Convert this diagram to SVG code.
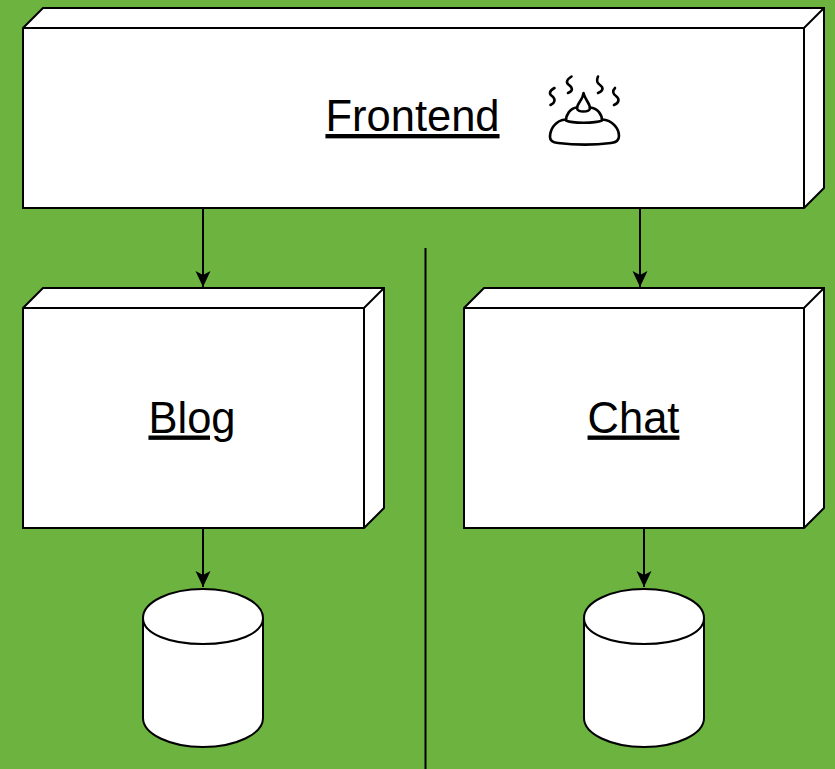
<svg xmlns="http://www.w3.org/2000/svg" width="835" height="769" viewBox="0 0 835 769">
<defs>
<marker id="arrow" markerUnits="userSpaceOnUse" markerWidth="16" markerHeight="16" refX="16" refY="8" orient="auto" viewBox="0 0 16 16">
<path d="M0 0.500L16 8L0 15.500L4 8Z" fill="#000"/>
</marker>
</defs>
<style>
.box{fill:#fff;stroke:#000;stroke-width:2;stroke-linejoin:miter}
.edge{fill:none;stroke:#000;stroke-width:2}
.label{font-family:"Liberation Sans",Arial,sans-serif;font-size:43.5px;fill:#000;text-anchor:middle;text-decoration:underline}
.conn{fill:none;stroke:#000;stroke-width:2}
.ico{fill:none;stroke:#000;stroke-width:2.6;stroke-linecap:round;stroke-linejoin:round}
</style>
<rect width="835" height="769" fill="#6db33f"/>
<g id="connectors">
<path class="conn" d="M203 208V287" marker-end="url(#arrow)"/>
<path class="conn" d="M640 208V287" marker-end="url(#arrow)"/>
<path class="conn" d="M203 528V587" marker-end="url(#arrow)"/>
<path class="conn" d="M644 528V587" marker-end="url(#arrow)"/>
<path class="conn" d="M425.500 248V769"/>
</g>
<g id="frontend">
<path class="box" d="M23 28L43 8H824V188L804 208H23Z"/>
<path class="edge" d="M23 28H804L824 8M804 28V208"/>
<text class="label" x="412.500" y="131">Frontend</text>
<g id="frontend-icon" class="ico">
<path d="M566 119.500C555 120 550 130 550 137C550 141 553 142.500 558 143C575 145 595 145 611 143C616 142.500 619 140 619 136C619 129 613 120 602 119.500"/>
<path d="M577 107.500C570 108 566 115 566 120.500C572 123.500 595 123.500 602 120.500C602 115 598 108 590 107.500"/>
<path d="M583.500 93C583 100 577 103 577 108.500C578 112.500 589 112.500 590 108.500C590 103 585 100 583.500 93Z"/>
<path d="M554.500 88C549 91 549 94 552 96C556 99 555 103 550.500 105"/>
<path d="M571.500 76.500C566 80 566 83 569 85C573 88 573 91 568 93"/>
<path d="M598 76.500C596 81 597 83 600 85C604 88 603 91 598 93"/>
<path d="M615 88C612 91 613 94 616 96C620 99 619 103 614 105"/>
</g>
</g>
<g id="blog">
<path class="box" d="M23 308L43 288H384V508L364 528H23Z"/>
<path class="edge" d="M23 308H364L384 288M364 308V528"/>
<text class="label" x="192" y="432.500">Blog</text>
</g>
<g id="chat">
<path class="box" d="M464 308L484 288H824V508L804 528H464Z"/>
<path class="edge" d="M464 308H804L824 288M804 308V528"/>
<text class="label" x="633.500" y="432.500">Chat</text>
</g>
<g id="blog-db">
<path class="box" d="M143 618C143 602 170 589 203 589C236 589 263 602 263 618V718C263 734 236 747 203 747C170 747 143 734 143 718Z"/>
<path class="edge" d="M143 618C143 634 170 644 203 644C236 644 263 634 263 618"/>
</g>
<g id="chat-db">
<path class="box" d="M584 618C584 602 611 589 644 589C677 589 704 602 704 618V718C704 734 677 747 644 747C611 747 584 734 584 718Z"/>
<path class="edge" d="M584 618C584 634 611 644 644 644C677 644 704 634 704 618"/>
</g>
</svg>
